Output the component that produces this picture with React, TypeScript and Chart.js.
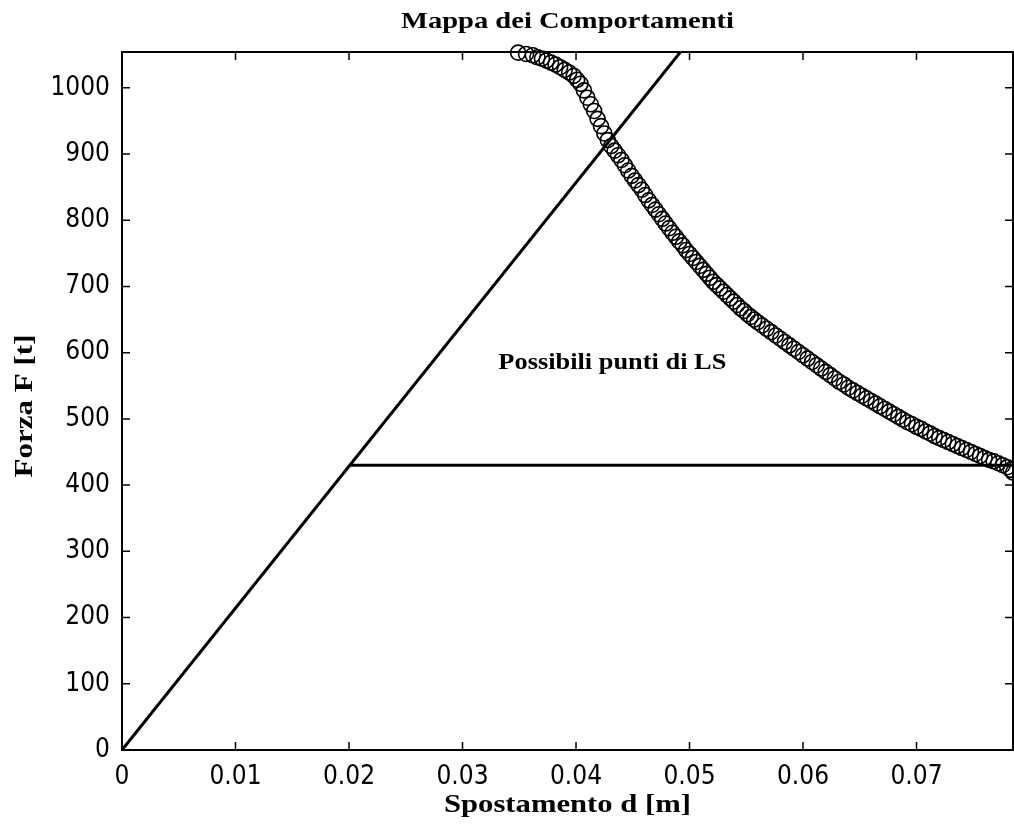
import React, { useEffect, useRef } from "react";
import { Chart, registerables } from "chart.js";

Chart.register(...registerables);

const TITLE = "Mappa dei Comportamenti";
const X_LABEL = "Spostamento d [m]";
const Y_LABEL = "Forza F [t]";
const NOTE = "Possibili punti di LS";
const NOTE_POS = { d: 0.0432, f: 585 };

const X_MIN = 0;
const X_MAX = 0.0785;
const Y_MIN = 0;
const Y_MAX = 1054;
const X_STEP = 0.01;
const Y_STEP = 100;

// elastic line
const ELASTIC_D = [0, 0.0492];
const ELASTIC_F = [0, 1054];

// yield plateau
const PLATEAU_D = [0.02, 0.0785];
const PLATEAU_F = [430, 430];

// behaviour curve (circles)
const CURVE_D = [
  0.0349, 0.0356, 0.0362, 0.0366, 0.037, 0.0374, 0.0378, 0.0382, 0.0386, 0.039,
  0.0394, 0.0398, 0.0401, 0.0404, 0.0407, 0.041, 0.0413, 0.0416, 0.0419, 0.0422,
  0.0425, 0.0428, 0.0431, 0.0434, 0.0437, 0.044, 0.0443, 0.0446, 0.0449, 0.0452,
  0.0455, 0.0458, 0.0461, 0.0464, 0.0467, 0.047, 0.0473, 0.0476, 0.0479, 0.0482,
  0.0485, 0.0488, 0.0491, 0.0494, 0.0497, 0.05, 0.0503, 0.0506, 0.0509, 0.0512,
  0.0515, 0.0518, 0.0521, 0.0524, 0.0527, 0.053, 0.0533, 0.0536, 0.0539, 0.0542,
  0.0545, 0.0548, 0.0551, 0.0554, 0.0557, 0.056, 0.0564, 0.0568, 0.0572, 0.0576,
  0.058, 0.0584, 0.0588, 0.0592, 0.0596, 0.06, 0.0604, 0.0608, 0.0612, 0.0616,
  0.062, 0.0624, 0.0628, 0.0632, 0.0636, 0.064, 0.0644, 0.0648, 0.0652, 0.0656,
  0.066, 0.0664, 0.0668, 0.0672, 0.0676, 0.068, 0.0684, 0.0688, 0.0692, 0.0696,
  0.07, 0.0704, 0.0708, 0.0712, 0.0716, 0.072, 0.0724, 0.0728, 0.0732, 0.0736,
  0.074, 0.0744, 0.0748, 0.0752, 0.0756, 0.076, 0.0764, 0.0768, 0.0772, 0.0776,
  0.078, 0.0783, 0.0785,
];
const CURVE_F = [
  1053, 1051, 1049, 1046, 1044, 1041, 1038, 1035, 1031, 1027,
  1023, 1018, 1012, 1006, 996, 985, 975, 965, 953, 942,
  931, 921, 912, 905, 898, 891, 883, 875, 867, 860,
  853, 846, 838, 830, 823, 816, 809, 802, 795, 788,
  781, 775, 768, 762, 755, 749, 743, 737, 731, 725,
  719, 713, 707, 702, 697, 692, 687, 682, 677, 672,
  667, 663, 658, 654, 650, 646, 641, 636, 631, 626,
  621, 616, 611, 606, 601, 596, 591, 586, 581, 576,
  571, 566, 561, 556, 552, 547, 543, 539, 535, 531,
  527, 523, 519, 515, 511, 507, 503, 499, 495, 492,
  488, 485, 481, 478, 474, 471, 468, 465, 462, 459,
  456, 453, 450, 447, 444, 441, 438, 436, 433, 430,
  427, 423, 419,
];

const TICK_FONT = "'Liberation Sans Narrow', 'DejaVu Sans Condensed', sans-serif";
const SERIF = "'Liberation Serif', 'DejaVu Serif', serif";

const zip = (xs: number[], ys: number[]) => xs.map((x, i) => ({ x, y: ys[i] }));

// draw text horizontally stretched to a target width (reference uses a wide bitmap serif)
function fitText(ctx: any, text: string, x: number, y: number, targetW: number, rotate = false) {
  const w = ctx.measureText(text).width;
  const sx = targetW / w;
  ctx.save();
  ctx.translate(x, y);
  if (rotate) ctx.rotate(-Math.PI / 2);
  ctx.scale(sx, 1);
  ctx.fillText(text, 0, 0);
  ctx.restore();
}

const decorPlugin = {
  id: "decor",
  afterDraw(chart: any) {
    const { ctx, chartArea, scales } = chart;
    const { left, right, top, bottom } = chartArea;
    const xs = scales.x;
    const ys = scales.y;
    ctx.save();
    ctx.strokeStyle = "#000";
    ctx.lineWidth = 1.5;
    ctx.beginPath();
    const TL = 8;
    xs.ticks.forEach((t: any) => {
      const px = xs.getPixelForValue(t.value);
      ctx.moveTo(px, bottom);
      ctx.lineTo(px, bottom - TL);
      ctx.moveTo(px, top);
      ctx.lineTo(px, top + TL);
    });
    ys.ticks.forEach((t: any) => {
      const py = ys.getPixelForValue(t.value);
      ctx.moveTo(left, py);
      ctx.lineTo(left + TL, py);
      ctx.moveTo(right, py);
      ctx.lineTo(right - TL, py);
    });
    ctx.stroke();
    ctx.lineWidth = 2;
    ctx.strokeRect(left, top, right - left, bottom - top);

    ctx.fillStyle = "#000";
    ctx.textAlign = "center";
    ctx.textBaseline = "middle";
    ctx.font = `bold 24px ${SERIF}`;
    fitText(ctx, TITLE, (left + right) / 2, 22, 333);
    ctx.font = `bold 26px ${SERIF}`;
    fitText(ctx, X_LABEL, (left + right) / 2, 805, 247);
    fitText(ctx, Y_LABEL, 25, 406, 143, true);
    ctx.font = `bold 23px ${SERIF}`;
    fitText(ctx, NOTE, xs.getPixelForValue(NOTE_POS.d), ys.getPixelForValue(NOTE_POS.f), 228);
    ctx.restore();
  },
};

export default function App() {
  const ref = useRef<HTMLCanvasElement | null>(null);
  useEffect(() => {
    if (!ref.current) return;
    const chart = new Chart(ref.current, {
      type: "scatter",
      data: {
        datasets: [
          {
            data: zip(ELASTIC_D, ELASTIC_F),
            showLine: true,
            borderColor: "#000",
            borderWidth: 3,
            pointRadius: 0,
          },
          {
            data: zip(PLATEAU_D, PLATEAU_F),
            showLine: true,
            borderColor: "#000",
            borderWidth: 3,
            pointRadius: 0,
          },
          {
            data: zip(CURVE_D, CURVE_F),
            showLine: false,
            pointStyle: "circle",
            pointRadius: 7.5,
            pointBorderWidth: 1.6,
            pointBorderColor: "#000",
            pointBackgroundColor: "rgba(0,0,0,0)",
            clip: false as any,
          },
        ],
      },
      options: {
        animation: false,
        responsive: false,
        layout: { autoPadding: false, padding: { left: 0, right: 1, top: 52, bottom: 0 } },
        plugins: {
          legend: { display: false },
          tooltip: { enabled: false },
          title: { display: false },
        },
        scales: {
          x: {
            type: "linear",
            min: X_MIN,
            max: X_MAX,
            grid: { display: false },
            border: { display: false },
            ticks: {
              stepSize: X_STEP,
              includeBounds: false,
              color: "#000",
              padding: 4,
              maxRotation: 0,
              font: { family: TICK_FONT, size: 26 },
              callback: (v: any) => String(+Number(v).toFixed(2)),
            },
            afterFit: (s: any) => {
              s.height = 81;
            },
          },
          y: {
            type: "linear",
            min: Y_MIN,
            max: Y_MAX,
            grid: { display: false },
            border: { display: false },
            ticks: {
              stepSize: Y_STEP,
              includeBounds: false,
              color: "#000",
              padding: 4,
              font: { family: TICK_FONT, size: 26 },
              callback: (v: any) => String(Math.round(Number(v))),
            },
            afterFit: (s: any) => {
              s.width = 122;
            },
          },
        },
      },
      plugins: [decorPlugin],
    });
    return () => chart.destroy();
  }, []);
  return (
    <div style={{ position: "absolute", left: 0, top: 0, width: 1014, height: 831, background: "#fff" }}>
      <canvas ref={ref} width={1014} height={831} />
    </div>
  );
}
